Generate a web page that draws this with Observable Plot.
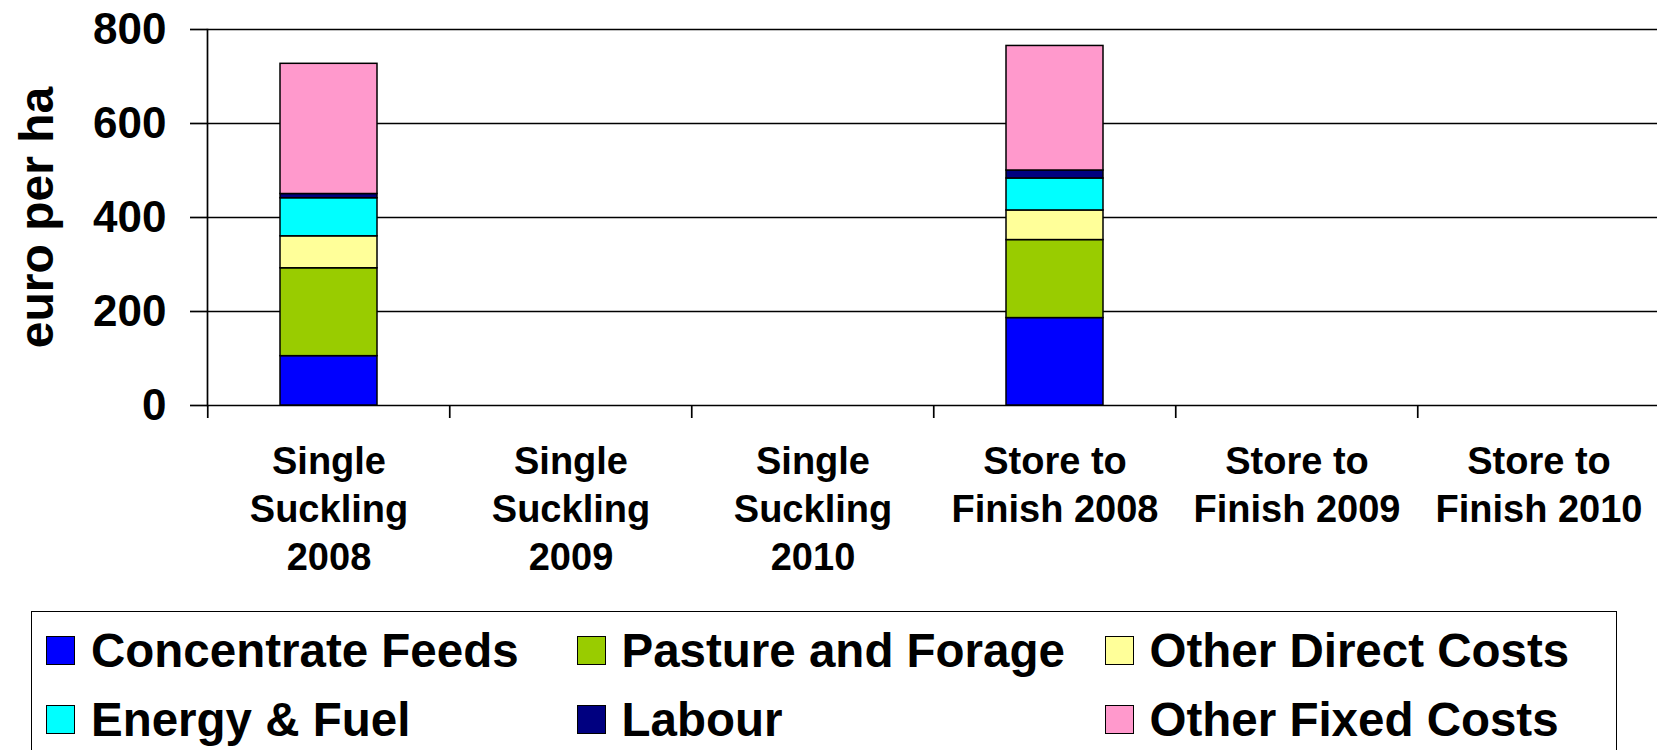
<!DOCTYPE html>
<html>
<head>
<meta charset="utf-8">
<script src="https://cdn.jsdelivr.net/npm/d3@7"></script>
<script src="https://cdn.jsdelivr.net/npm/@observablehq/plot@0.6"></script>
<style>
  html, body { margin: 0; padding: 0; background: #fff; overflow: hidden; width: 1657px; height: 750px; }
  #chart { position: absolute; left: 0; top: 0; }
  #legend { position: absolute; left: 31px; top: 611px; width: 1586px; height: 200px; border: 1.5px solid #000; box-sizing: border-box;
            font-family: "Liberation Sans", Arial, sans-serif; font-weight: bold; color: #000; }
  .item { position: absolute; height: 50px; display: flex; align-items: center; white-space: nowrap; font-size: 47.5px; line-height: 1; }
  .sw { width: 29px; height: 29px; border: 1.5px solid #000; box-sizing: border-box; margin-right: 16px; flex: none; }
</style>
</head>
<body>
<div id="chart"></div>
<div id="legend"></div>
<script>
// ---- data ----
const categories = ["Single Suckling 2008", "Single Suckling 2009", "Single Suckling 2010",
                    "Store to Finish 2008", "Store to Finish 2009", "Store to Finish 2010"];
const categoryLabels = ["Single\nSuckling\n2008", "Single\nSuckling\n2009", "Single\nSuckling\n2010",
                        "Store to\nFinish 2008", "Store to\nFinish 2009", "Store to\nFinish 2010"];
const series = ["Concentrate Feeds", "Pasture and Forage", "Other Direct Costs",
                "Energy & Fuel", "Labour", "Other Fixed Costs"];
const seriesColors = ["#0000FF", "#99CC00", "#FFFF99", "#00FFFF", "#000080", "#FF99CC"];
const singleSuckling2008 = [105, 187, 68, 81, 9, 277];
const storeToFinish2008 = [186, 166, 63, 68, 17, 265];
const yTicks = [0, 200, 400, 600, 800];
const yLabel = "euro per ha";

// long table for the stacked bars
const rows = [];
series.forEach((s, i) => rows.push({category: categories[0], series: s, value: singleSuckling2008[i]}));
series.forEach((s, i) => rows.push({category: categories[3], series: s, value: storeToFinish2008[i]}));

const W = 1657, H = 611;
const xRange = [205.5, 1660.5];
const step = (xRange[1] - xRange[0]) / categories.length;
const font = "'Liberation Sans', Arial, sans-serif";

const chart = Plot.plot({
  width: W, height: H,
  marginTop: 29, marginBottom: 206, marginLeft: 207, marginRight: 0,
  style: {fontFamily: font, fontWeight: "bold", color: "#000", background: "transparent", overflow: "visible"},
  x: {domain: categories, range: xRange, paddingInner: 0.6, paddingOuter: 0.3, axis: null},
  y: {domain: [0, 800], axis: null},
  color: {domain: series, range: seriesColors},
  marks: [
    Plot.gridY(yTicks, {stroke: "#000", strokeOpacity: 1, strokeWidth: 1.7}),
    Plot.frame({anchor: "left", stroke: "#000", strokeWidth: 1.7}),
    Plot.barY(rows, {x: "category", y: "value", fill: "series", stroke: "#000", strokeWidth: 1.5}),
    Plot.axisY(yTicks, {tickSize: 17, tickPadding: 24, fontSize: 44, label: null, strokeWidth: 1.7}),
    Plot.axisX(categories, {tickSize: 13, tickFormat: () => "", dx: -step / 2, strokeWidth: 1.7, label: null}),
    Plot.text(categories, {x: d => d, text: (d, i) => categoryLabels[i], frameAnchor: "bottom",
                           lineAnchor: "top", dy: 34, fontSize: 38, lineHeight: 1.27, fill: "#000"}),
    Plot.text([yLabel], {text: d => d, frameAnchor: "left", textAnchor: "middle", rotate: -90,
                         dx: -170, fontSize: 48, fill: "#000"})
  ]
});
document.getElementById("chart").appendChild(chart);

// ---- legend (HTML, below the SVG) ----
const legendCols = [14, 544.5, 1072.5];
const legendRows = [13.5, 82.5];
const legendPos = [[0, 0], [1, 0], [2, 0], [0, 1], [1, 1], [2, 1]];
const legend = document.getElementById("legend");
series.forEach((s, i) => {
  const [c, r] = legendPos[i];
  const item = document.createElement("div");
  item.className = "item";
  item.style.left = legendCols[c] + "px";
  item.style.top = legendRows[r] + "px";
  const sw = document.createElement("span");
  sw.className = "sw";
  sw.style.background = seriesColors[i];
  const label = document.createElement("span");
  label.textContent = s;
  item.appendChild(sw);
  item.appendChild(label);
  legend.appendChild(item);
});
</script>
</body>
</html>
